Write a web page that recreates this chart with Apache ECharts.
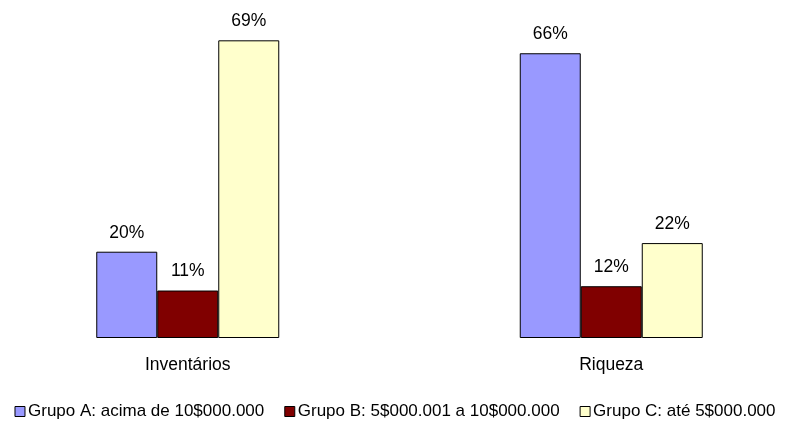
<!DOCTYPE html>
<html>
<head>
<meta charset="utf-8">
<script src="https://cdn.jsdelivr.net/npm/echarts@6/dist/echarts.min.js"></script>
<style>
  html, body { margin: 0; padding: 0; background: #fff; }
  #chart { width: 790px; height: 426px; }
</style>
</head>
<body>
<div id="chart"></div>
<script>
// Categories and shares (%) per group
const categories = ['Inventários', 'Riqueza'];
const seriesNames = [
  'Grupo A: acima de 10$000.000',
  'Grupo B: 5$000.001 a 10$000.000',
  'Grupo C: até 5$000.000'
];
const grupoA = [20, 66];
const grupoB = [11, 12];
const grupoC = [69, 22];

const colors = ['#9999FF', '#800000', '#FFFFCC'];
const font = 'Liberation Sans, Arial, sans-serif';

const chart = echarts.init(document.getElementById('chart'), null, { renderer: 'canvas' });

function makeSeries(name, data, color) {
  return {
    name: name,
    type: 'bar',
    data: data,
    barWidth: 61,
    barGap: '0%',
    itemStyle: { color: color, borderColor: '#000', borderWidth: 1 },
    label: {
      show: true,
      position: 'top',
      distance: 10,
      formatter: '{c}%',
      color: '#000',
      fontFamily: font,
      fontSize: 17.5
    },
    emphasis: { disabled: true }
  };
}

chart.setOption({
  animation: false,
  backgroundColor: '#fff',
  grid: { left: -24, right: -33, top: 36, bottom: 88, outerBoundsMode: 'none', containLabel: false },
  xAxis: {
    type: 'category',
    data: categories,
    axisLine: { show: false },
    axisTick: { show: false },
    axisLabel: { color: '#000', fontFamily: font, fontSize: 17.5, margin: 18 }
  },
  yAxis: {
    type: 'value',
    min: 0,
    max: 70,
    show: false
  },
  legend: {
    top: 398,
    left: 'center',
    itemWidth: 10,
    itemHeight: 10,
    itemGap: 20,
    icon: 'rect',
    textStyle: { color: '#000', fontFamily: font, fontSize: 17, padding: [0, 0, 0, -2] },
    itemStyle: { borderColor: '#000', borderWidth: 1 },
    data: seriesNames
  },
  series: [
    makeSeries(seriesNames[0], grupoA, colors[0]),
    makeSeries(seriesNames[1], grupoB, colors[1]),
    makeSeries(seriesNames[2], grupoC, colors[2])
  ]
});
</script>
</body>
</html>
